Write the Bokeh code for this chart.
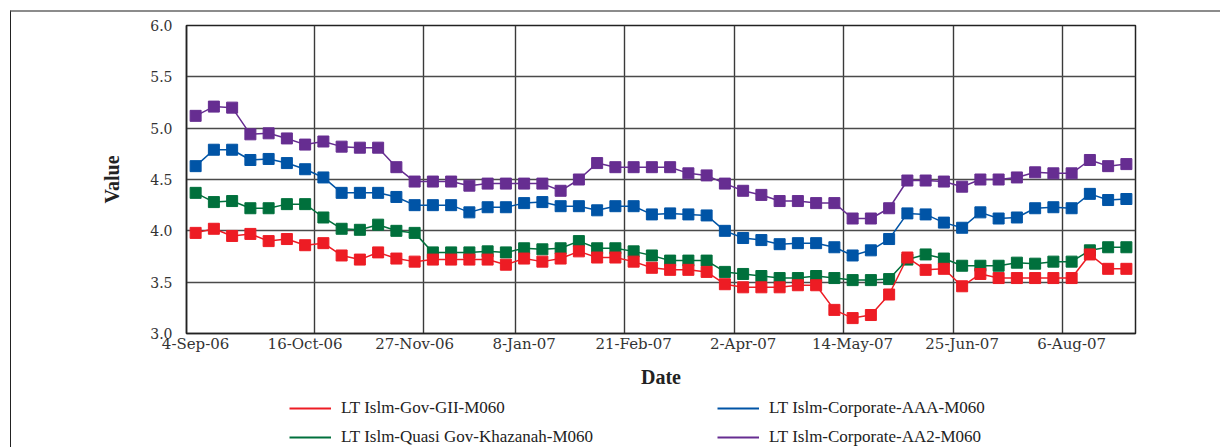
from bokeh.plotting import figure
from bokeh.layouts import column
from bokeh.models import Range1d, FixedTicker, Legend, LegendItem, NumeralTickFormatter
from bokeh.embed import file_html
from bokeh.resources import INLINE

# ---- data (weekly observations, index 0 = 4-Sep-06) ----
weeks = list(range(52))
tick_pos = [0, 6, 12, 18, 24, 30, 36, 42, 48]
tick_labels = ["4-Sep-06", "16-Oct-06", "27-Nov-06", "8-Jan-07", "21-Feb-07",
               "2-Apr-07", "14-May-07", "25-Jun-07", "6-Aug-07"]
y_ticks = [3.0, 3.5, 4.0, 4.5, 5.0, 5.5, 6.0]

gov_gii = [3.98, 4.02, 3.95, 3.97, 3.90, 3.92, 3.86, 3.88, 3.76, 3.72, 3.79, 3.73, 3.70,
           3.72, 3.72, 3.72, 3.72, 3.67, 3.73, 3.70, 3.73, 3.80, 3.74, 3.74, 3.70, 3.64,
           3.62, 3.62, 3.60, 3.48, 3.45, 3.45, 3.45, 3.47, 3.47, 3.23, 3.15, 3.18, 3.38,
           3.74, 3.62, 3.63, 3.46, 3.58, 3.54, 3.54, 3.54, 3.54, 3.54, 3.77, 3.63, 3.63]
corp_aaa = [4.63, 4.79, 4.79, 4.69, 4.70, 4.66, 4.60, 4.52, 4.37, 4.37, 4.37, 4.33, 4.25,
            4.25, 4.25, 4.18, 4.23, 4.23, 4.27, 4.28, 4.24, 4.24, 4.20, 4.24, 4.24, 4.16,
            4.17, 4.16, 4.15, 4.00, 3.93, 3.91, 3.87, 3.88, 3.88, 3.84, 3.76, 3.81, 3.92,
            4.17, 4.16, 4.08, 4.03, 4.18, 4.12, 4.13, 4.22, 4.23, 4.22, 4.36, 4.30, 4.31]
quasi_khazanah = [4.37, 4.28, 4.29, 4.22, 4.22, 4.26, 4.26, 4.13, 4.02, 4.01, 4.06, 4.00, 3.98,
                  3.79, 3.79, 3.79, 3.80, 3.79, 3.83, 3.82, 3.83, 3.90, 3.83, 3.83, 3.80, 3.76,
                  3.71, 3.71, 3.71, 3.60, 3.58, 3.56, 3.54, 3.54, 3.56, 3.54, 3.52, 3.52, 3.53,
                  3.72, 3.77, 3.73, 3.66, 3.66, 3.66, 3.69, 3.68, 3.70, 3.70, 3.81, 3.84, 3.84]
corp_aa2 = [5.12, 5.21, 5.20, 4.94, 4.95, 4.90, 4.84, 4.87, 4.82, 4.81, 4.81, 4.62, 4.48,
            4.48, 4.48, 4.44, 4.46, 4.46, 4.46, 4.46, 4.39, 4.50, 4.66, 4.62, 4.62, 4.62,
            4.62, 4.56, 4.54, 4.46, 4.39, 4.35, 4.29, 4.29, 4.27, 4.27, 4.12, 4.12, 4.22,
            4.49, 4.49, 4.48, 4.43, 4.50, 4.50, 4.52, 4.57, 4.56, 4.56, 4.69, 4.63, 4.65]

# vertical grid separators (between weeks)
grid_pos = [6.5, 12.5, 17.5, 23.5, 29.5, 35.5, 41.5, 47.5]

series = [
    ("LT Islm-Quasi Gov-Khazanah-M060", quasi_khazanah, "#00703c"),
    ("LT Islm-Gov-GII-M060", gov_gii, "#ed1c24"),
    ("LT Islm-Corporate-AAA-M060", corp_aaa, "#0054a6"),
    ("LT Islm-Corporate-AA2-M060", corp_aa2, "#662d91"),
]
# legend columns are filled top-to-bottom
legend_order = ["LT Islm-Gov-GII-M060", "LT Islm-Quasi Gov-Khazanah-M060",
                "LT Islm-Corporate-AAA-M060", "LT Islm-Corporate-AA2-M060"]

# ---- main chart ----
p = figure(width=1209, height=381, output_backend="svg", toolbar_location=None,
           x_range=Range1d(-0.5, 51.5), y_range=Range1d(3.0, 6.0),
           min_border_left=175, min_border_right=85, min_border_top=13,
           min_border_bottom=60)
p.background_fill_color = "white"
p.border_fill_color = "white"
p.outline_line_color = "#222222"
p.outline_line_width = 1.5

p.xaxis.ticker = FixedTicker(ticks=tick_pos)
p.xaxis.major_label_overrides = {t: l for t, l in zip(tick_pos, tick_labels)}
p.yaxis.ticker = FixedTicker(ticks=y_ticks)
p.yaxis.formatter = NumeralTickFormatter(format="0.0")
for ax in (p.xaxis, p.yaxis):
    ax.major_tick_in = 0
    ax.major_tick_out = 0
    ax.minor_tick_in = 0
    ax.minor_tick_out = 0
    ax.axis_line_color = "#222222"
    ax.axis_line_width = 1.5
    ax.major_label_text_font = "DejaVu Serif"
    ax.major_label_text_color = "#333333"
    ax.axis_label_text_font = "Liberation Serif"
    ax.axis_label_text_font_style = "bold"
    ax.axis_label_text_font_size = "20px"
    ax.axis_label_text_color = "#222222"
p.xaxis.major_label_text_font_size = "15px"
p.yaxis.major_label_text_font_size = "14px"
p.xaxis.axis_label = "Date"
p.yaxis.axis_label = "Value"
p.xaxis.major_label_standoff = 1
p.yaxis.major_label_standoff = 14
p.xaxis.axis_label_standoff = 10
p.yaxis.axis_label_standoff = 24

p.xgrid.ticker = FixedTicker(ticks=grid_pos)
p.xgrid.grid_line_color = "#3a3a3a"
p.xgrid.grid_line_width = 1.4
p.ygrid.grid_line_color = "#4a4a4a"
p.ygrid.grid_line_width = 1.4

for name, vals, col in series:
    p.line(weeks, vals, line_color=col, line_width=1.5)
    p.scatter(weeks, vals, marker="square", size=11, fill_color=col, line_color=col)

# ---- legend strip below the chart (its lines lie outside its visible range) ----
lg = figure(width=1209, height=54, output_backend="svg", toolbar_location=None,
            x_range=Range1d(100, 101), y_range=Range1d(100, 101),
            x_axis_type=None, y_axis_type=None, min_border=0)
lg.outline_line_color = None
lg.background_fill_color = "white"
lg.border_fill_color = "white"
lg.grid.visible = False
key_r = {}
for name, vals, col in series:
    key_r[name] = lg.line(weeks, vals, line_color=col, line_width=2)

legend = Legend(items=[LegendItem(label=n, renderers=[key_r[n]]) for n in legend_order],
                ncols=2, location=(103, 0), padding=0, margin=0, spacing=9,
                glyph_width=42, glyph_height=20, label_height=20, label_width=367,
                label_standoff=10, border_line_alpha=0, background_fill_alpha=0,
                label_text_font="Liberation Serif", label_text_font_size="17px",
                label_text_color="#222222")
lg.add_layout(legend)

page = column(p, lg, spacing=0)
page.styles = {"margin-left": "10px", "margin-top": "10px",
               "border-top": "2px solid #8c8c8c", "border-left": "1px solid #222222"}

open("out.html", "w").write(file_html(page, INLINE))
